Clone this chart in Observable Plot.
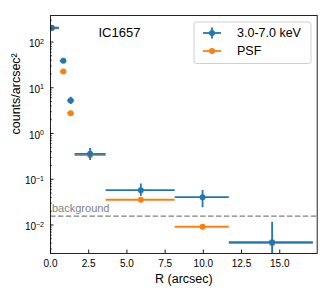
<!DOCTYPE html>
<html><head><meta charset="utf-8">
<script src="https://cdn.jsdelivr.net/npm/d3@7"></script>
<script src="https://cdn.jsdelivr.net/npm/@observablehq/plot@0.6"></script>
<style>body{margin:0;background:#fff} svg{display:block}</style>
</head><body><div id="chart"></div>
<script>
// ---- data ----
const radius   = [0.08, 0.84, 1.32, 2.59, 5.91, 9.95, 14.5];
const radiusLo = [-0.42, 0.64, 1.13, 1.61, 3.64, 8.16, 11.7];
const radiusHi = [0.58, 1.06, 1.54, 3.64, 8.16, 11.7, 17.2];
const counts   = [205, 38.8, 5.26, 0.36, 0.0577, 0.0406, 0.0042];
const countsLo = [190, 34.4, 4.3, 0.257, 0.042, 0.0238, 0.0005];
const countsHi = [222, 43, 6.2, 0.47, 0.079, 0.0568, 0.0115];
const psf      = [200, 22.6, 2.78, 0.336, 0.0356, 0.00914, 0.0040];
const background = 0.0156;
const seriesLabels = ["3.0-7.0 keV", "PSF"];
const xTicks = [0, 2.5, 5, 7.5, 10, 12.5, 15];
const yTicks = [1e-2, 1e-1, 1e0, 1e1, 1e2];

// ---- layout ----
const W = 324, H = 291, mL = 50, mR = 7.3, mT = 15, mB = 38;
const innerW = W - mL - mR, innerH = H - mT - mB;
const yDomain = [0.00238, 380];
const FONT = "'Liberation Sans', Arial, Helvetica, sans-serif";
const blue = "#1f77b4", orange = "#ff7f0e";

const yMinor = [];
for (let k = -3; k <= 2; k++) for (let m = 2; m <= 9; m++) {
  const v = m * Math.pow(10, k);
  if (v > yDomain[0] && v < yDomain[1]) yMinor.push(v);
}

const rows = radius.map((x, i) => ({
  x, lo: radiusLo[i], hi: radiusHi[i],
  y: counts[i], ylo: countsLo[i], yhi: countsHi[i], p: psf[i]
}));

const plot = Plot.plot({
  width: W, height: H,
  marginLeft: mL, marginRight: mR, marginTop: mT, marginBottom: mB,
  style: {fontFamily: FONT, fontSize: "10px", color: "#000", background: "#fff", overflow: "visible"},
  x: {domain: [0, 17.45]},
  y: {type: "log", domain: yDomain},
  marks: [
    Plot.ruleY([background], {stroke: "#808080", strokeWidth: 1.3, strokeDasharray: "5.5,2.4"}),
    Plot.text(["background"], {x: 0, y: background, text: d => d, textAnchor: "start", lineAnchor: "bottom", dx: 1.5, dy: -4, fill: "#808080", fontSize: 11}),
    Plot.ruleY(rows, {y: "p", x1: "lo", x2: "hi", stroke: orange, strokeWidth: 1.8, clip: true}),
    Plot.dot(rows, {x: "x", y: "p", r: 3, fill: orange, clip: true}),
    Plot.ruleY(rows, {y: "y", x1: "lo", x2: "hi", stroke: blue, strokeWidth: 1.8, clip: true}),
    Plot.ruleX(rows, {x: "x", y1: "ylo", y2: "yhi", stroke: blue, strokeWidth: 1.8, clip: true}),
    Plot.dot(rows, {x: "x", y: "y", r: 3, fill: blue, clip: true}),
    Plot.frame({stroke: "#222", strokeWidth: 1}),
    Plot.tickX(xTicks, {x: d => d, insetTop: innerH - 3.5, stroke: "#000", strokeWidth: 0.9}),
    Plot.tickY(yTicks, {y: d => d, insetRight: innerW - 3.5, stroke: "#000", strokeWidth: 0.9}),
    Plot.tickY(yMinor, {y: d => d, insetRight: innerW - 2, stroke: "#000", strokeWidth: 0.6}),
    Plot.axisX(xTicks, {tickSize: 0, tickPadding: 6, tickFormat: d3.format(".1f"), label: null}),
    Plot.axisY(yTicks, {tickSize: 0, tickPadding: 6.5, dy: 2, tickFormat: d => "10^" + Math.round(Math.log10(d)), label: null}),
    Plot.text(["R (arcsec)"], {frameAnchor: "bottom", dy: 29, lineAnchor: "bottom", text: d => d, fontSize: 12.5}),
    Plot.text(["counts/arcsec²"], {frameAnchor: "left", dx: -31, rotate: -90, lineAnchor: "bottom", text: d => d, fontSize: 12.5}),
    Plot.text(["IC1657"], {frameAnchor: "top-left", dx: 48, dy: 21, textAnchor: "start", lineAnchor: "bottom", text: d => d, fontSize: 13})
  ]
});

const svg = d3.select(plot);
svg.selectAll('g[aria-label="y-axis tick label"] text').each(function () {
  const m = /^10\^(.+)$/.exec(this.textContent);
  if (!m) return;
  const sel = d3.select(this);
  sel.text("10");
  sel.append("tspan").attr("dy", "-0.5em").attr("font-size", "7px").text(m[1].replace("-", "\u2212"));
});

// legend
const lg = svg.append("g").attr("font-size", 12.5).attr("font-family", FONT).attr("text-anchor", "start");
lg.append("rect").attr("x", 194).attr("y", 22).attr("width", 117).attr("height", 41.5).attr("rx", 2.5)
  .attr("fill", "white").attr("fill-opacity", 0.8).attr("stroke", "#d0d0d0");
const colors = [blue, orange];
seriesLabels.forEach((lab, i) => {
  const cy = 33 + i * 18;
  const c = colors[i];
  lg.append("line").attr("x1", 203).attr("x2", 221).attr("y1", cy).attr("y2", cy).attr("stroke", c).attr("stroke-width", 1.8);
  if (i === 0) lg.append("line").attr("x1", 212).attr("x2", 212).attr("y1", cy - 5.5).attr("y2", cy + 5.5).attr("stroke", c).attr("stroke-width", 1.8);
  lg.append("circle").attr("cx", 212).attr("cy", cy).attr("r", 3).attr("fill", c);
  lg.append("text").attr("x", 237).attr("y", cy + 4.3).attr("fill", "#000").text(lab);
});

document.getElementById("chart").appendChild(plot);
</script>
</body></html>
